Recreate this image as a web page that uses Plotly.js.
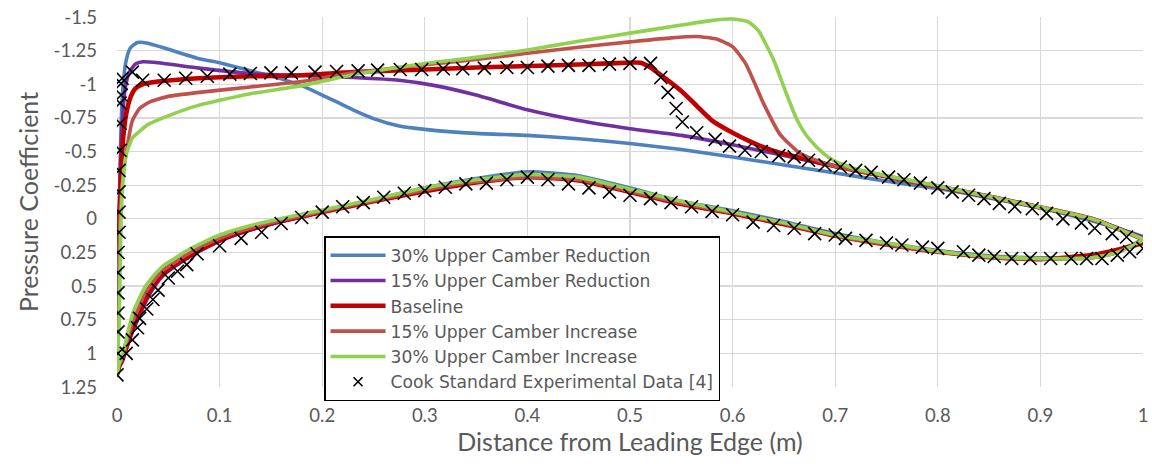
<!DOCTYPE html>
<html>
<head>
<meta charset="utf-8">
<script src="https://cdn.plot.ly/plotly-3.0.1.min.js"></script>
<style>
html,body{margin:0;padding:0;background:#fff;}
#chart{width:1152px;height:464px;}
</style>
</head>
<body>
<div id="chart"></div>
<script>
// ---- Data ----
var seriesNames = ["30% Upper Camber Reduction","15% Upper Camber Reduction","Baseline","15% Upper Camber Increase","30% Upper Camber Increase"];
var expName = "Cook Standard Experimental Data [4]";

// Lower surface x (shared by all model series)
var lowerX = [0, 0.002, 0.005, 0.008, 0.012, 0.016, 0.02, 0.027, 0.035, 0.045, 0.055, 0.065, 0.08, 0.1, 0.125, 0.15, 0.2, 0.25, 0.3, 0.35, 0.4, 0.45, 0.5, 0.55, 0.6, 0.65, 0.7, 0.75, 0.8, 0.85, 0.9, 0.95, 0.975, 1.0];

var red30Lower  = [1.16, 1.10, 1.06, 0.99, 0.90, 0.82, 0.75, 0.63, 0.52, 0.42, 0.36, 0.31, 0.24, 0.165, 0.095, 0.04, -0.05, -0.14, -0.23, -0.30, -0.35, -0.32, -0.23, -0.13, -0.06, 0.02, 0.11, 0.18, 0.235, 0.275, 0.29, 0.29, 0.25, 0.15];
var red15Lower  = [1.16, 1.10, 1.06, 0.99, 0.90, 0.82, 0.75, 0.63, 0.52, 0.42, 0.36, 0.31, 0.24, 0.165, 0.095, 0.04, -0.05, -0.135, -0.22, -0.285, -0.33, -0.30, -0.215, -0.12, -0.05, 0.03, 0.115, 0.185, 0.24, 0.28, 0.295, 0.285, 0.245, 0.16];
var baseLower   = [1.16, 1.10, 1.05, 0.98, 0.89, 0.80, 0.73, 0.61, 0.50, 0.41, 0.35, 0.30, 0.235, 0.16, 0.09, 0.035, -0.05, -0.13, -0.205, -0.27, -0.31, -0.285, -0.20, -0.11, -0.04, 0.04, 0.125, 0.19, 0.245, 0.285, 0.30, 0.27, 0.23, 0.18];
var inc15Lower  = [1.16, 1.09, 1.04, 0.96, 0.85, 0.75, 0.68, 0.56, 0.47, 0.38, 0.33, 0.28, 0.215, 0.145, 0.08, 0.03, -0.055, -0.135, -0.215, -0.275, -0.31, -0.29, -0.205, -0.115, -0.045, 0.035, 0.125, 0.19, 0.245, 0.285, 0.30, 0.29, 0.25, 0.16];
var inc30Lower  = [1.16, 1.08, 1.02, 0.93, 0.80, 0.69, 0.62, 0.51, 0.43, 0.35, 0.30, 0.25, 0.19, 0.12, 0.06, 0.015, -0.065, -0.145, -0.23, -0.29, -0.33, -0.31, -0.22, -0.13, -0.05, 0.03, 0.12, 0.18, 0.24, 0.28, 0.295, 0.29, 0.25, 0.16];

// Upper surfaces
var red30UpperX = [0, 0.001, 0.002, 0.003, 0.004, 0.006, 0.009, 0.013, 0.02, 0.03, 0.05, 0.08, 0.1, 0.13, 0.16, 0.18, 0.2, 0.23, 0.25, 0.275, 0.3, 0.35, 0.4, 0.45, 0.5, 0.55, 0.6, 0.65, 0.7, 0.75, 0.8, 0.85, 0.9, 0.95, 1.0];
var red30Upper  = [1.16, 0.6, 0.1, -0.35, -0.7, -1.0, -1.18, -1.27, -1.31, -1.305, -1.26, -1.19, -1.16, -1.10, -1.04, -0.99, -0.92, -0.81, -0.745, -0.69, -0.665, -0.635, -0.62, -0.595, -0.56, -0.515, -0.46, -0.40, -0.34, -0.28, -0.225, -0.155, -0.08, 0.015, 0.13];

var red15UpperX = [0, 0.001, 0.002, 0.003, 0.005, 0.008, 0.012, 0.018, 0.025, 0.04, 0.08, 0.13, 0.18, 0.23, 0.275, 0.31, 0.35, 0.4, 0.45, 0.5, 0.55, 0.6, 0.65, 0.7, 0.75, 0.8, 0.85, 0.9, 0.95, 1.0];
var red15Upper  = [1.16, 0.6, 0.1, -0.3, -0.7, -0.97, -1.09, -1.15, -1.167, -1.16, -1.12, -1.08, -1.065, -1.05, -1.03, -0.99, -0.92, -0.81, -0.73, -0.67, -0.62, -0.55, -0.47, -0.39, -0.315, -0.24, -0.165, -0.085, 0.0, 0.14];

var baseUpperX  = [0, 0.001, 0.002, 0.004, 0.006, 0.009, 0.013, 0.018, 0.025, 0.04, 0.08, 0.13, 0.18, 0.23, 0.3, 0.35, 0.42, 0.48, 0.51, 0.52, 0.535, 0.55, 0.565, 0.58, 0.6, 0.62, 0.64, 0.665, 0.7, 0.75, 0.8, 0.85, 0.9, 0.95, 1.0];
var baseUpper   = [1.16, 0.6, 0.1, -0.35, -0.6, -0.78, -0.9, -0.97, -1.0, -1.02, -1.045, -1.06, -1.067, -1.09, -1.11, -1.125, -1.14, -1.155, -1.16, -1.125, -1.04, -0.95, -0.84, -0.73, -0.64, -0.565, -0.505, -0.455, -0.39, -0.315, -0.24, -0.165, -0.085, 0.0, 0.15];

var inc15UpperX = [0, 0.001, 0.002, 0.005, 0.009, 0.015, 0.022, 0.032, 0.05, 0.08, 0.13, 0.18, 0.23, 0.3, 0.35, 0.4, 0.45, 0.5, 0.54, 0.565, 0.585, 0.6, 0.613, 0.63, 0.646, 0.665, 0.68, 0.7, 0.75, 0.8, 0.85, 0.9, 0.95, 1.0];
var inc15Upper  = [1.16, 0.6, 0.2, -0.25, -0.49, -0.73, -0.82, -0.87, -0.91, -0.94, -0.98, -1.02, -1.085, -1.145, -1.185, -1.23, -1.275, -1.315, -1.345, -1.355, -1.335, -1.28, -1.15, -0.86, -0.63, -0.49, -0.44, -0.39, -0.315, -0.24, -0.165, -0.085, 0.0, 0.15];

var inc30UpperX = [0, 0.002, 0.003, 0.004, 0.006, 0.009, 0.015, 0.022, 0.03, 0.048, 0.08, 0.13, 0.18, 0.23, 0.3, 0.35, 0.4, 0.45, 0.5, 0.55, 0.58, 0.6, 0.615, 0.625, 0.64, 0.648, 0.656, 0.662, 0.668, 0.675, 0.688, 0.698, 0.72, 0.75, 0.8, 0.85, 0.9, 0.95, 1.0];
var inc30Upper  = [1.16, 0.8, 0.4, 0.0, -0.3, -0.48, -0.6, -0.65, -0.70, -0.76, -0.845, -0.93, -0.99, -1.07, -1.155, -1.20, -1.255, -1.32, -1.38, -1.44, -1.475, -1.485, -1.465, -1.40, -1.18, -1.02, -0.86, -0.75, -0.665, -0.59, -0.49, -0.435, -0.37, -0.32, -0.245, -0.165, -0.085, 0.0, 0.15];

// Experimental data
var expUpperX = [0.001, 0.001, 0.001, 0.001, 0.001, 0.001, 0.002, 0.002, 0.002, 0.002, 0.003, 0.003, 0.003, 0.004, 0.004, 0.005, 0.015, 0.025,
  0.046, 0.067, 0.088, 0.11, 0.13, 0.15, 0.17, 0.193, 0.214, 0.235, 0.254, 0.276, 0.297, 0.318, 0.337, 0.358, 0.38, 0.40, 0.42, 0.44, 0.46, 0.48, 0.50, 0.52,
  0.53, 0.537, 0.545, 0.551, 0.565, 0.583, 0.597, 0.612, 0.628, 0.645, 0.66, 0.674, 0.69, 0.705, 0.72, 0.735, 0.752, 0.767, 0.783, 0.80, 0.814, 0.83, 0.845, 0.86, 0.875, 0.892, 0.906, 0.922, 0.94, 0.953, 0.97, 0.984, 1.0];
var expUpperCp = [1.00, 0.84, 0.70, 0.55, 0.40, 0.25, 0.10, -0.05, -0.20, -0.36, -0.51, -0.71, -0.86, -0.92, -1.005, -1.045, -1.09, -1.03,
  -1.03, -1.045, -1.06, -1.075, -1.08, -1.085, -1.085, -1.09, -1.095, -1.10, -1.105, -1.11, -1.11, -1.115, -1.115, -1.12, -1.125, -1.125, -1.135, -1.14, -1.14, -1.15, -1.155, -1.155,
  -1.05, -0.94, -0.82, -0.72, -0.64, -0.59, -0.54, -0.51, -0.50, -0.47, -0.46, -0.435, -0.40, -0.385, -0.36, -0.345, -0.31, -0.29, -0.265, -0.23, -0.20, -0.175, -0.15, -0.115, -0.09, -0.075, -0.04, 0.0, 0.03, 0.07, 0.11, 0.135, 0.22];
var expLowerX = [0.0, 0.009, 0.015, 0.02, 0.022, 0.029, 0.035, 0.04, 0.05, 0.059, 0.068, 0.078, 0.1, 0.121, 0.141, 0.16, 0.18, 0.2, 0.22, 0.24, 0.26, 0.28, 0.30, 0.32, 0.34, 0.36, 0.38, 0.40, 0.42, 0.44, 0.46, 0.48, 0.50, 0.52, 0.54, 0.56, 0.58, 0.60, 0.62, 0.64, 0.66, 0.68, 0.70, 0.71, 0.73, 0.75, 0.765, 0.785, 0.80, 0.825, 0.84, 0.855, 0.872, 0.89, 0.91, 0.93, 0.945, 0.96, 0.975, 0.987];
var expLowerCp = [1.16, 1.0, 0.90, 0.81, 0.74, 0.67, 0.60, 0.53, 0.44, 0.39, 0.34, 0.26, 0.20, 0.145, 0.10, 0.035, -0.01, -0.05, -0.09, -0.12, -0.16, -0.19, -0.21, -0.235, -0.26, -0.265, -0.29, -0.31, -0.29, -0.26, -0.23, -0.20, -0.175, -0.15, -0.12, -0.09, -0.055, -0.03, 0.025, 0.05, 0.07, 0.11, 0.12, 0.145, 0.16, 0.18, 0.195, 0.21, 0.22, 0.245, 0.27, 0.28, 0.295, 0.295, 0.295, 0.295, 0.295, 0.295, 0.27, 0.245];

var xTickVals = [0, 0.1, 0.2, 0.3, 0.4, 0.5, 0.6, 0.7, 0.8, 0.9, 1];
var xTickText = ["0", "0.1", "0.2", "0.3", "0.4", "0.5", "0.6", "0.7", "0.8", "0.9", "1"];
var yTickVals = [-1.5, -1.25, -1, -0.75, -0.5, -0.25, 0, 0.25, 0.5, 0.75, 1, 1.25];
var yTickText = ["-1.5", "-1.25", "-1", "-0.75", "-0.5", "-0.25", "0", "0.25", "0.5", "0.75", "1", "1.25"];
var xTitle = "Distance from Leading Edge (m)";
var yTitle = "Pressure Coefficient";

// ---- Font sizing: fit installed fonts to the widths seen in the reference ----
var textFont = "Lato";
var legendFontName = "DejaVu Sans";
var ctx = document.createElement("canvas").getContext("2d");
function fitSize(text, family, targetW) {
  ctx.font = "100px '" + family + "'";
  var w = ctx.measureText(text).width;
  return w > 0 ? 100 * targetW / w : 18;
}
var titleSize = Math.max(20, Math.min(27, (fitSize(xTitle, textFont, 351) + fitSize(yTitle, textFont, 217)) / 2));
var tickSize = Math.max(16, Math.min(21, fitSize("-1.25", textFont, 43.5)));
var legendSize = Math.max(15, Math.min(17.5, fitSize(seriesNames[0], legendFontName, 260)));

// ---- Build traces ----
var colors = ["#4F81BD", "#7030A0", "#C00000", "#C0504D", "#92D050"];
var widths = [3.6, 3.6, 4.6, 3.6, 3.6];
var lowers = [red30Lower, red15Lower, baseLower, inc15Lower, inc30Lower];
var upperXs = [red30UpperX, red15UpperX, baseUpperX, inc15UpperX, inc30UpperX];
var uppers = [red30Upper, red15Upper, baseUpper, inc15Upper, inc30Upper];

var traces = [];
for (var i = 0; i < seriesNames.length; i++) {
  var xs = lowerX.slice().reverse().concat(upperXs[i].slice(1));
  var ys = lowers[i].slice().reverse().concat(uppers[i].slice(1));
  traces.push({
    type: "scatter", mode: "lines", name: seriesNames[i],
    x: xs, y: ys,
    line: {color: colors[i], width: widths[i], shape: "spline", smoothing: 0.5}
  });
}
// experimental points (drawn); legend entry uses a smaller marker like the reference
traces.push({
  type: "scatter", mode: "markers", name: expName, showlegend: false,
  x: expUpperX.concat(expLowerX), y: expUpperCp.concat(expLowerCp),
  marker: {symbol: "x-thin", size: 13, color: "#000", line: {color: "#000", width: 1.6}}
});
traces.push({
  type: "scatter", mode: "markers", name: expName, showlegend: true,
  x: [null], y: [null],
  marker: {symbol: "x-thin", size: 9, color: "#000", line: {color: "#000", width: 1.6}}
});

var fontFam = "Lato, 'Open Sans', sans-serif";
var layout = {
  width: 1152, height: 464,
  margin: {l: 117, r: 9, t: 17, b: 77},
  paper_bgcolor: "#fff", plot_bgcolor: "#fff",
  font: {family: fontFam, color: "#595959"},
  showlegend: true,
  legend: {
    x: 0.2018, y: 0.408, xanchor: "left", yanchor: "top",
    bgcolor: "#fff", bordercolor: "#000", borderwidth: 1.5,
    font: {family: "'DejaVu Sans', sans-serif", size: legendSize, color: "#595959"},
    tracegroupgap: 0, itemwidth: 55
  },
  xaxis: {
    range: [0, 1], tickvals: xTickVals, ticktext: xTickText,
    showgrid: true, gridcolor: "#d9d9d9", gridwidth: 1.3,
    zeroline: false, showline: false, ticks: "",
    tickfont: {family: fontFam, size: tickSize, color: "#595959"},
    ticklabelstandoff: 15,
    title: {text: xTitle, font: {family: fontFam, size: titleSize, color: "#595959"}, standoff: 7}
  },
  yaxis: {
    range: [1.25, -1.5], tickvals: yTickVals, ticktext: yTickText,
    showgrid: true, gridcolor: "#d9d9d9", gridwidth: 1.3,
    zeroline: false, showline: false, ticks: "",
    tickfont: {family: fontFam, size: tickSize, color: "#595959"},
    ticklabelstandoff: 19,
    title: {text: yTitle, font: {family: fontFam, size: titleSize, color: "#595959"}, standoff: 7}
  }
};

Plotly.newPlot("chart", traces, layout, {displayModeBar: false, staticPlot: true});
</script>
</body>
</html>
